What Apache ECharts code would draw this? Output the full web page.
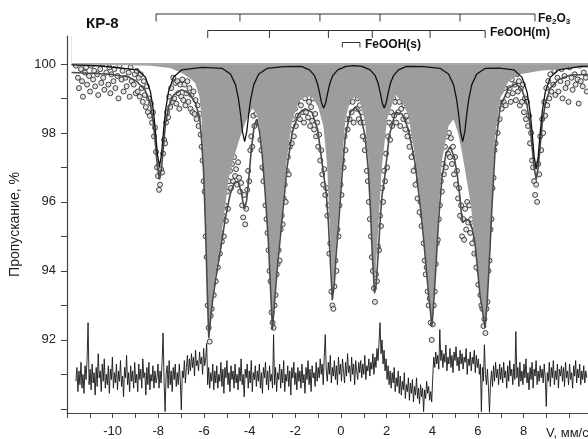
<!DOCTYPE html>
<html><head><meta charset="utf-8">
<script src="https://cdn.jsdelivr.net/npm/echarts@6/dist/echarts.min.js"></script>
<style>html,body{margin:0;padding:0;background:#fff}#c{width:588px;height:439px}</style>
</head><body><div id="c"></div>
<script>
// channel calibration (mm/s)
const velStart = -11.61, velStep = 0.0444;

// measured transmission, % (one value per channel)
const transmission = [
99.95,100.45,99.6,99.3,100.1,99.85,99.5,99.05,100.3,99.75,
99.9,99.4,100.5,99.65,99.2,99.95,100.2,99.55,99.8,99.35,
100.05,99.7,99.1,100.35,99.85,99.45,100.0,99.6,99.25,100.15,
99.75,100.55,99.4,99.9,99.15,99.7,100.25,99.5,99.85,99.3,
100.1,99.65,99.0,99.95,100.4,99.55,99.8,99.2,100.05,99.6,
99.35,100.2,99.75,99.05,99.9,99.5,100.3,99.4,99.7,99.15,
99.8,99.2,99.6,99.05,99.7,99.3,98.9,99.5,99.1,98.75,99.35,98.6,99.0,98.5,98.85,98.3,98.6,97.9,98.15,97.45,97.0,96.75,96.35,96.5,96.95,96.85,97.4,97.8,97.7,98.3,98.6,98.45,99.05,98.75,99.3,98.9,99.6,99.0,99.45,98.85,99.5,99.15,98.7,99.4,99.05,
99.55,98.95,99.4,98.8,99.15,99.5,98.9,99.3,98.7,99.1,98.6,99.2,98.55,98.95,98.4,98.8,98.2,98.55,97.95,97.6,97.2,96.6,96.3,95.0,94.4,93.0,92.35,91.95,92.7,92.9,93.6,93.3,94.0,93.7,94.35,94.1,94.7,94.5,95.1,94.85,
95.6,95.0,95.9,95.45,96.3,95.8,96.6,96.9,96.4,97.1,96.6,97.3,96.75,96.95,96.5,97.15,96.7,96.3,96.55,95.9,95.55,96.2,95.35,95.8,96.35,96.9,96.6,97.5,97.9,97.6,98.5,98.2,98.9,98.55,99.1,98.3,98.6,97.8,97.5,97.0,
96.6,96.95,95.9,95.5,95.1,94.6,94.0,93.7,92.8,92.5,92.35,93.0,93.3,93.9,94.2,94.6,94.3,95.2,95.6,95.35,96.1,96.5,96.0,96.9,97.3,96.8,97.6,98.1,97.7,98.4,97.9,98.7,98.2,98.9,98.5,99.2,98.4,98.8,99.4,98.6,
98.3,99.0,98.6,99.3,98.45,98.9,98.2,98.75,98.35,99.0,98.1,98.55,97.9,98.3,97.6,97.95,97.2,97.5,96.8,96.5,96.95,96.2,96.4,95.6,95.9,94.5,94.8,93.4,93.0,92.9,93.55,94.3,94.0,95.2,95.0,95.9,96.5,96.2,97.2,97.0,
97.9,97.5,98.4,98.1,98.9,98.4,99.1,98.6,98.9,98.3,99.2,99.55,98.7,99.0,98.4,98.8,98.3,98.6,97.9,98.3,97.5,97.8,96.9,96.6,96.0,95.5,95.0,94.4,94.0,93.5,93.1,93.9,93.7,94.7,94.6,95.6,95.3,96.4,96.0,96.9,
96.6,97.4,97.0,97.9,98.3,97.8,98.6,98.2,99.0,98.5,98.9,98.3,99.25,98.6,98.9,98.2,98.7,99.0,98.4,98.8,98.1,98.5,97.9,98.35,97.6,98.0,97.3,97.8,96.9,97.4,96.5,97.0,96.1,96.6,95.7,96.0,95.3,95.6,94.8,94.3,
93.9,94.1,93.4,93.0,93.2,92.5,92.0,92.45,93.0,93.4,94.2,94.8,94.9,95.5,95.9,96.6,96.3,97.1,96.8,97.6,97.0,97.9,97.4,98.0,97.3,97.85,97.1,97.6,96.8,97.3,96.5,96.9,96.1,96.4,95.6,95.9,95.0,95.5,94.9,95.8,
95.2,96.0,95.4,95.9,95.1,95.5,94.8,95.3,94.5,94.9,94.1,94.5,93.6,94.0,93.3,93.0,92.9,92.4,92.6,92.2,92.9,93.1,94.0,94.3,95.2,95.5,96.4,96.7,97.5,97.7,98.3,98.0,98.9,98.4,99.2,98.7,99.5,98.9,99.3,98.8,
99.6,99.1,99.8,99.3,98.9,99.55,99.15,100.0,99.4,98.95,99.7,99.2,99.5,98.8,99.3,98.9,99.4,98.6,99.0,98.4,98.9,98.2,98.5,97.7,98.0,97.2,97.0,96.6,96.2,96.5,96.0,97.1,96.8,97.9,97.5,98.4,98.0,98.9,98.5,99.3,98.8,99.5,99.0,99.7,99.2,100.0,99.4,99.8,99.1,100.2,
99.6,99.2,100.1,99.5,99.85,99.0,100.4,99.65,99.3,100.0,99.45,98.9,99.9,100.5,99.6,99.25,100.15,99.7,99.4,100.3,99.55,98.85,99.95,99.5,100.2,99.35,99.75,100.45,99.6,99.2
];

// residual trace (drawn in the same % units, around 91)
const residual = [
90.8,91.2,90.5,91.1,90.7,91.35,90.6,91.0,90.45,91.25,90.85,91.4,92.5,90.7,91.15,90.55,91.3,90.75,91.05,90.4,
91.2,90.65,91.6,90.9,91.1,90.5,91.3,90.8,91.45,90.6,91.0,90.7,91.25,90.45,91.15,90.85,91.5,90.6,91.05,90.75,
91.3,90.55,91.1,90.8,91.4,90.65,90.95,90.35,91.2,90.9,91.55,90.7,91.05,90.5,91.25,90.8,91.1,90.6,91.35,90.75,
91.0,90.5,91.3,90.85,91.15,90.6,91.45,90.9,91.05,90.4,91.2,90.7,91.35,90.55,91.0,90.8,91.25,90.6,91.1,90.75,
90.9,91.3,90.6,91.1,90.75,91.35,92.2,90.8,89.92,91.0,91.25,90.6,91.4,90.7,91.1,90.5,91.2,90.85,91.3,90.65,
91.05,90.7,91.3,90.8,89.97,91.1,90.9,91.4,90.75,91.2,91.55,91.0,91.45,91.1,91.6,91.2,91.5,90.95,91.7,91.25,
91.4,91.1,91.65,91.3,91.5,91.0,91.75,91.25,91.45,91.9,90.7,91.2,90.6,91.05,90.8,91.3,90.55,91.1,90.75,91.25,
90.6,91.0,90.8,91.35,90.65,91.15,90.45,91.2,90.9,91.4,90.7,91.05,90.5,91.25,90.85,91.1,90.6,91.3,90.75,91.0,
90.55,91.2,90.8,91.45,90.7,91.0,90.35,91.15,90.9,91.3,90.6,91.1,90.75,91.4,90.5,91.05,90.85,91.25,90.65,91.1,
90.8,91.3,90.6,91.05,90.45,91.2,90.9,91.35,90.7,91.1,90.55,91.25,90.8,91.0,90.6,92.15,90.7,91.2,90.5,91.05,
90.85,91.3,90.6,91.15,90.75,91.4,90.5,91.0,90.8,91.25,90.65,91.1,90.4,91.2,90.9,91.35,90.7,91.05,90.55,91.2,
90.8,91.1,90.6,91.3,90.75,91.0,90.45,91.2,90.85,91.4,90.7,91.15,90.5,91.25,90.9,91.05,90.65,91.35,90.8,91.2,
90.9,91.45,91.0,91.3,90.7,91.5,92.15,91.1,90.8,91.35,91.0,91.55,90.75,91.2,90.95,91.4,90.85,91.25,90.7,91.5,
91.0,91.3,90.8,91.45,91.1,90.75,91.35,90.95,91.6,91.05,91.25,90.8,91.5,91.0,91.3,90.7,91.4,91.1,90.85,91.35,
91.05,91.4,90.9,91.3,91.0,91.55,90.85,91.25,91.1,91.45,90.95,91.35,91.15,91.6,91.0,91.5,91.2,91.75,91.4,91.9,
92.5,91.6,92.0,91.3,91.7,91.1,91.45,90.85,91.25,90.7,91.1,90.6,91.05,90.75,91.2,90.5,90.9,90.65,91.1,90.45,
90.95,90.4,90.8,90.55,91.05,90.3,90.7,90.5,90.9,90.25,90.75,90.45,90.85,90.2,90.65,90.4,90.9,90.3,90.6,90.15,
90.7,90.35,90.6,89.92,90.55,90.3,90.8,90.45,90.65,90.25,90.5,90.2,90.9,91.5,91.2,91.65,91.3,91.55,91.15,92.3,
91.4,91.7,91.2,91.6,91.35,91.85,91.1,91.5,91.3,91.75,91.2,91.55,91.05,91.65,91.4,91.8,91.25,91.5,91.1,91.7,
91.3,91.6,91.15,91.5,91.35,91.75,91.0,91.45,91.25,91.65,91.1,91.5,91.3,91.7,91.05,91.55,91.2,91.45,91.0,91.3,
89.92,91.2,90.8,91.86,91.0,90.7,91.15,90.6,89.9,90.75,91.1,90.65,91.25,90.8,91.35,90.9,91.15,90.7,91.3,90.85,
91.2,90.75,91.35,90.9,91.1,90.6,91.25,90.8,91.4,90.95,91.15,90.7,91.3,90.85,92.24,90.9,91.2,90.65,91.35,90.8,
91.1,90.7,91.3,90.9,91.45,90.75,91.05,90.55,91.2,90.85,91.35,90.6,91.15,90.95,91.4,90.7,91.1,90.8,91.25,90.9,
91.15,90.75,91.3,90.9,90.07,91.05,90.8,91.35,90.65,91.2,90.9,91.4,90.7,91.1,90.85,91.3,90.6,91.15,90.95,91.25,
90.8,91.2,90.65,91.35,90.9,91.1,90.7,91.3,90.85,91.05,90.6,91.25,90.95,91.4,90.75,91.15,90.9,91.3,90.7,91.1,
90.85,91.25,90.75,91.1,90.9
];

// total fitted envelope [V, %]
const fitTotal = [
[-11.8,99.75],[-10.99,99.73],[-10.1,99.7],[-9.3,99.62],[-8.95,99.5],[-8.59,99.25],[-8.35,98.85],[-8.22,98.3],[-8.13,97.7],[-8.04,97.0],[-7.95,96.65],[-7.86,96.98],[-7.77,97.65],[-7.69,98.25],[-7.55,98.75],[-7.33,99.1],[-6.99,99.25],[-6.64,99.15],[-6.37,98.85],[-6.19,98.45],[-6.11,97.85],[-6.02,96.9],[-5.93,95.2],[-5.86,93.5],[-5.79,92.05],[-5.72,92.55],[-5.63,93.1],[-5.48,93.8],[-5.28,94.6],[-5.07,95.5],[-4.86,96.2],[-4.68,96.55],[-4.51,96.6],[-4.37,96.3],[-4.28,95.95],[-4.22,95.8],[-4.13,96.05],[-4.04,96.65],[-3.93,97.5],[-3.80,98.2],[-3.69,98.4],[-3.57,98.05],[-3.44,97.3],[-3.32,96.25],[-3.18,94.85],[-3.08,93.4],[-3.00,92.3],[-2.92,93.0],[-2.80,94.0],[-2.58,95.5],[-2.36,97.0],[-2.14,98.0],[-1.86,98.55],[-1.57,98.7],[-1.27,98.6],[-1.02,98.1],[-0.86,97.3],[-0.76,96.8],[-0.65,96.3],[-0.55,95.4],[-0.46,94.2],[-0.38,93.15],[-0.29,93.65],[-0.21,94.5],[-0.11,95.3],[0.04,96.7],[0.19,97.9],[0.41,98.6],[0.63,98.75],[0.84,98.55],[1.06,97.9],[1.20,96.9],[1.29,95.8],[1.37,94.5],[1.47,93.35],[1.54,93.6],[1.64,94.6],[1.73,95.6],[1.80,96.2],[1.895,96.6],[1.98,97.1],[2.11,97.9],[2.38,98.6],[2.68,98.55],[2.96,98.1],[3.25,97.1],[3.47,95.9],[3.61,95.0],[3.73,94.1],[3.84,93.3],[3.93,92.75],[3.98,92.4],[4.04,92.85],[4.13,93.8],[4.27,95.4],[4.42,96.7],[4.60,97.4],[4.78,97.6],[4.96,97.3],[5.09,96.8],[5.20,96.2],[5.27,95.7],[5.33,95.4],[5.41,95.4],[5.50,95.5],[5.62,95.45],[5.76,95.2],[5.88,94.75],[6.09,93.3],[6.23,92.7],[6.31,92.35],[6.40,93.05],[6.46,93.8],[6.54,94.8],[6.61,95.8],[6.75,97.5],[6.97,98.75],[7.34,99.3],[7.67,99.43],[7.93,99.25],[8.15,98.8],[8.28,98.25],[8.37,97.6],[8.46,97.0],[8.55,96.65],[8.64,97.0],[8.73,97.65],[8.82,98.3],[8.95,98.85],[9.17,99.3],[9.53,99.55],[10.06,99.68],[12.5,99.72]
];

// Fe2O3 sextet component [V, %]
const fitFe2O3 = [
[-11.8,99.97],[-10.5,99.94],
[-8.93,99.83],[-8.57,99.62],[-8.35,99.21],[-8.22,98.67],[-8.13,98.07],[-8.04,97.38],[-7.95,97.02],[-7.86,97.38],[-7.77,98.07],[-7.68,98.67],[-7.55,99.21],[-7.33,99.62],[-6.97,99.83],
[-6.08,99.9],
[-5.20,99.87],[-4.84,99.71],[-4.62,99.40],[-4.49,98.99],[-4.40,98.55],[-4.31,98.02],[-4.22,97.75],[-4.13,98.02],[-4.04,98.55],[-3.95,98.99],[-3.82,99.40],[-3.60,99.71],[-3.24,99.87],
[-2.49,99.92],
[-1.74,99.93],[-1.38,99.83],[-1.16,99.66],[-1.03,99.43],[-0.94,99.17],[-0.85,98.87],[-0.76,98.72],[-0.67,98.87],[-0.58,99.17],[-0.49,99.43],[-0.36,99.66],[-0.14,99.83],[0.22,99.93],
[0.57,99.95],
[0.92,99.93],[1.28,99.83],[1.50,99.66],[1.63,99.43],[1.72,99.17],[1.81,98.87],[1.895,98.72],[1.98,98.87],[2.07,99.17],[2.16,99.43],[2.30,99.66],[2.52,99.83],[2.87,99.93],
[3.61,99.92],
[4.35,99.87],[4.71,99.71],[4.93,99.40],[5.06,98.99],[5.15,98.55],[5.24,98.02],[5.33,97.75],[5.42,98.02],[5.51,98.55],[5.60,98.99],[5.73,99.40],[5.95,99.71],[6.31,99.87],
[6.94,99.88],
[7.57,99.83],[7.93,99.61],[8.15,99.19],[8.28,98.64],[8.37,98.03],[8.46,97.32],[8.55,96.95],[8.64,97.32],[8.73,98.03],[8.82,98.64],[8.95,99.19],[9.17,99.61],[9.53,99.83],
[10.5,99.93],[12.5,99.96]
];

// FeOOH(m) component (grey filled) [V, %]
const fitFeOOHm = [
[-11.8,99.98],[-9.66,99.97],[-8.34,99.95],[-7.47,99.88],[-6.95,99.73],[-6.59,99.57],[-6.38,99.44],[-6.20,99.05],[-6.11,98.5],[-6.03,97.3],[-5.94,95.4],[-5.85,93.3],[-5.79,92.1],[-5.72,92.6],[-5.63,93.2],[-5.50,93.9],[-5.28,94.8],[-5.07,95.9],[-4.91,96.7],[-4.70,97.25],[-4.48,97.75],[-4.19,98.3],[-3.89,98.7],[-3.71,98.6],[-3.57,98.2],[-3.44,97.5],[-3.32,96.5],[-3.18,95.0],[-3.08,93.5],[-3.00,92.4],[-2.92,93.2],[-2.80,94.2],[-2.58,95.7],[-2.36,97.3],[-2.14,98.35],[-1.86,98.9],[-1.57,99.05],[-1.27,99.05],[-1.00,98.75],[-0.77,98.2],[-0.61,97.1],[-0.49,95.3],[-0.41,94.0],[-0.36,93.3],[-0.29,94.0],[-0.21,94.8],[-0.11,95.6],[0.04,97.1],[0.19,98.4],[0.41,98.95],[0.63,99.05],[0.84,98.9],[1.06,98.3],[1.20,97.2],[1.29,96.1],[1.37,94.7],[1.47,93.5],[1.54,94.2],[1.64,95.3],[1.79,97.0],[2.02,98.4],[2.38,99.1],[2.68,98.9],[2.96,98.5],[3.25,97.3],[3.47,96.1],[3.61,95.2],[3.73,94.3],[3.84,93.5],[3.93,92.9],[3.98,92.5],[4.04,93.0],[4.13,94.0],[4.27,95.7],[4.42,97.2],[4.71,98.2],[4.93,98.4],[5.13,98.0],[5.31,97.4],[5.44,96.9],[5.67,96.0],[5.88,94.8],[6.09,93.4],[6.23,92.8],[6.31,92.4],[6.40,93.2],[6.46,94.0],[6.54,95.0],[6.61,96.0],[6.75,97.9],[6.97,99.0],[7.34,99.5],[7.84,99.7],[8.72,99.8],[9.82,99.87],[12.5,99.92]
];
// upper edge of the grey area (100 % baseline)
const baseline = [[-11.8, 100], [12.5, 100]];

// line positions marked by the brackets (mm/s)
const fe2o3Lines = [-8.08, -4.41, -0.91, 1.72, 5.22, 8.50];
const feoohMLines = [-5.82, -3.12, -0.54, 1.38, 3.91, 6.32];
const feoohSLines = [0.07, 0.84];

// axis ticks
const xTickValues = [-12,-11,-10,-9,-8,-7,-6,-5,-4,-3,-2,-1,0,1,2,3,4,5,6,7,8,9,10];
const xLabelValues = [-10,-8,-6,-4,-2,0,2,4,6,8];
const yTickValues = [90,91,92,93,94,95,96,97,98,99,100];
const yLabelValues = [92,94,96,98,100];

const X_MIN = -12, X_MAX = 10.82;
const FONT = 'Liberation Sans, Arial, sans-serif';
const vel = transmission.map((_, i) => +(velStart + i * velStep).toFixed(4));
const points = transmission.map((t, i) => [vel[i], t]);
const resid = residual.map((r, i) => [vel[i], r]);

// bracket series in a second (hidden) grid; rows: line level / tick end
const bracketDefs = [
  {lines: fe2o3Lines, y0: 14, y1: 21.5},
  {lines: feoohMLines, y0: 30.5, y1: 38},
  {lines: feoohSLines, y0: 42.5, y1: 47.5}
];
const bracketSeries = [];
bracketDefs.forEach(b => {
  const a = b.lines[0], z = b.lines[b.lines.length - 1];
  bracketSeries.push({type: 'line', xAxisIndex: 1, yAxisIndex: 1, symbol: 'none', silent: true, z: 5,
    lineStyle: {color: '#333', width: 1}, data: [[a, b.y1], [a, b.y0], [z, b.y0], [z, b.y1]]});
  b.lines.slice(1, -1).forEach(v => {
    bracketSeries.push({type: 'line', xAxisIndex: 1, yAxisIndex: 1, symbol: 'none', silent: true, z: 5,
      lineStyle: {color: '#333', width: 1}, data: [[v, b.y0], [v, b.y1]]});
  });
});

const chart = echarts.init(document.getElementById('c'), null, {renderer: 'canvas'});
chart.setOption({
  animation: false,
  backgroundColor: '#fff',
  textStyle: {fontFamily: FONT},
  grid: [
    {left: 66.5, right: 0, top: 36, bottom: 26},
    {left: 66.5, right: 0, top: 0, height: 60}
  ],
  xAxis: [
    {type: 'value', min: X_MIN, max: X_MAX, gridIndex: 0,
      axisLine: {onZero: false, lineStyle: {color: '#444', width: 1.2}},
      axisTick: {length: 5, lineStyle: {color: '#444'}, customValues: xTickValues},
      axisLabel: {customValues: xLabelValues, color: '#222', fontSize: 13, margin: 12, fontFamily: FONT},
      splitLine: {show: false}},
    {type: 'value', min: X_MIN, max: X_MAX, gridIndex: 1, show: false}
  ],
  yAxis: [
    {type: 'value', min: 89.88, max: 100.81, gridIndex: 0,
      name: 'Пропускание, %', nameLocation: 'middle', nameGap: 45,
      nameTextStyle: {fontSize: 14, color: '#222', fontFamily: FONT},
      axisLine: {show: true, onZero: false, lineStyle: {color: '#444', width: 1.2}},
      axisTick: {show: true, length: 6, lineStyle: {color: '#444'}, customValues: yTickValues},
      axisLabel: {customValues: yLabelValues, color: '#222', fontSize: 13, margin: 11, fontFamily: FONT},
      splitLine: {show: false}},
    {type: 'value', min: 0, max: 60, inverse: true, gridIndex: 1, show: false}
  ],
  series: [
    {name: 'FeOOH(m)', type: 'line', symbol: 'none', silent: true,
      lineStyle: {width: 0, opacity: 0}, areaStyle: {color: '#9d9d9d', opacity: 1, origin: 'end'}, data: fitFeOOHm},
    {name: 'baseline', type: 'line', symbol: 'none', silent: true,
      lineStyle: {color: '#a8a8a8', width: 2}, areaStyle: {color: '#ffffff', opacity: 1, origin: 'end'}, data: baseline},
    {name: 'fit', type: 'line', symbol: 'none', silent: true,
      lineStyle: {color: '#4a4a4a', width: 1.6}, data: fitTotal},
    {name: 'Fe2O3', type: 'line', symbol: 'none', silent: true,
      lineStyle: {color: '#111', width: 1.3}, data: fitFe2O3},
    {name: 'residual', type: 'line', symbol: 'none', silent: true,
      lineStyle: {color: '#161616', width: 0.9}, data: resid},
    {name: 'data', type: 'scatter', symbol: 'circle', symbolSize: 5, silent: true,
      itemStyle: {color: '#dcdcdc', borderColor: '#1a1a1a', borderWidth: 1}, data: points}
  ].concat(bracketSeries),
  graphic: [
    {type: 'text', z: 100, left: 86, top: 16, style: {text: 'КР-8', font: 'bold 15px ' + FONT, fill: '#111'}},
    {type: 'text', z: 100, left: 538, top: 12, style: {text: '{a|Fe}{b|2}{a|O}{b|3}', fill: '#111',
      rich: {a: {fontSize: 12, fontWeight: 'bold', fontFamily: FONT, lineHeight: 14},
             b: {fontSize: 8, fontWeight: 'bold', fontFamily: FONT, lineHeight: 14, padding: [6, 0, 0, 0]}}}},
    {type: 'text', z: 100, left: 490, top: 27, style: {text: 'FeOOH(m)', font: 'bold 12px ' + FONT, fill: '#111'}},
    {type: 'text', z: 100, left: 365, top: 39, style: {text: 'FeOOH(s)', font: 'bold 12px ' + FONT, fill: '#111'}},
    {type: 'text', z: 100, left: 546, top: 427, style: {text: 'V, мм/с', font: '13px ' + FONT, fill: '#222'}}
  ]
});
</script></body></html>
